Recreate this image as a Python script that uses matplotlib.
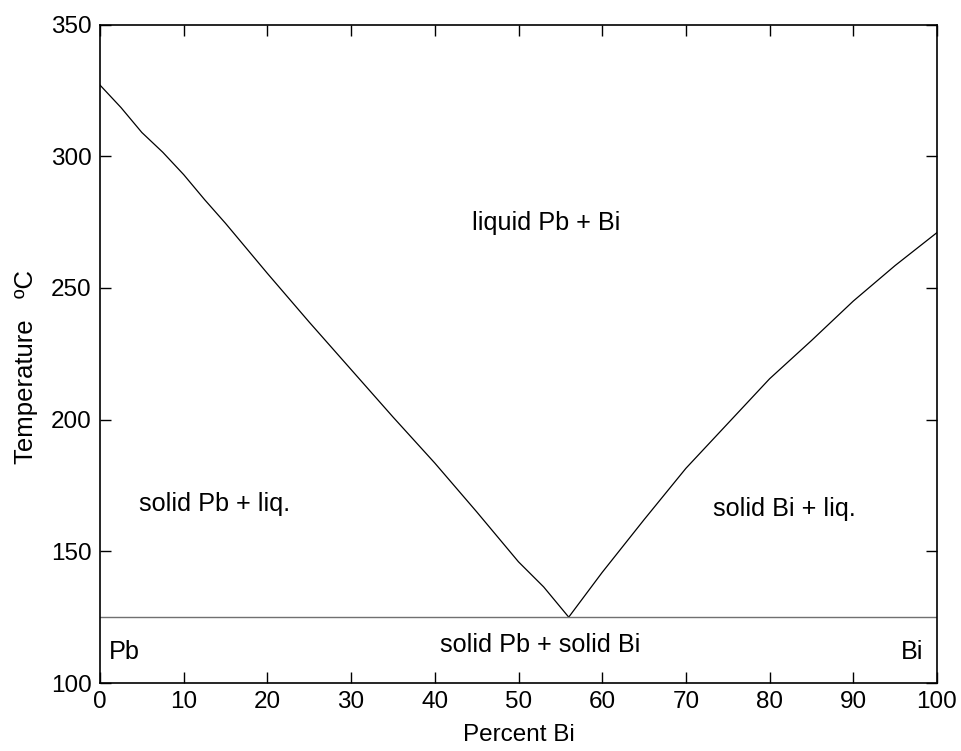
import matplotlib
matplotlib.use('Agg')
import matplotlib.pyplot as plt

# liquidus, Pb side (percent Bi, temperature C)
pb_side_x = [0, 2.5, 5, 7.5, 10, 12.5, 15, 17.5, 20, 25, 30, 35, 40, 45, 50, 53, 56]
pb_side_t = [327, 318.5, 309, 301.5, 293, 283.5, 274.5, 265, 255.5, 237, 219, 201, 183.5, 165, 146, 136.5, 125]

# liquidus, Bi side
bi_side_x = [56, 60, 65, 70, 75, 80, 85, 90, 95, 100]
bi_side_t = [125, 142, 162, 181.5, 198.5, 215.5, 230, 245, 258.5, 271]

eutectic_t = 125

region_labels = ['liquid Pb + Bi', 'solid Pb + liq.', 'solid Bi + liq.', 'solid Pb + solid Bi', 'Pb', 'Bi']
label_x = [44.4, 4.7, 73.2, 40.6, 1.1, 98.4]
label_t = [274.5, 168, 166, 114.5, 111.6, 111.6]
label_ha = ['left', 'left', 'left', 'left', 'left', 'right']

plt.rcParams['font.family'] = ['Liberation Sans', 'DejaVu Sans']
FS = 17.5

fig = plt.figure(figsize=(9.62, 7.51), dpi=100)
ax = fig.add_axes([100 / 962, 1 - 683 / 751, 837 / 962, 658.5 / 751])

ax.plot(pb_side_x, pb_side_t, color='black', lw=0.9)
ax.plot(bi_side_x, bi_side_t, color='black', lw=0.9)
ax.axhline(eutectic_t, color='#707070', lw=1.0)

for txt, x, t, ha in zip(region_labels, label_x, label_t, label_ha):
    ax.text(x, t, txt, ha=ha, va='center', fontsize=18.2)

ax.set_xlim(0, 100)
ax.set_ylim(100, 350)
ax.set_xticks(range(0, 101, 10))
ax.set_yticks(range(100, 351, 50))
ax.tick_params(direction='in', length=8, width=1, top=True, right=True, labelsize=FS, pad=6)
for sp in ax.spines.values():
    sp.set_linewidth(1.2)

ax.set_xlabel('Percent Bi', fontsize=FS, labelpad=8)
ax.set_ylabel('Temperature   ºC', fontsize=18.5)
ax.yaxis.set_label_coords(-0.074, 0.48)

fig.savefig('out.png', dpi=100)
